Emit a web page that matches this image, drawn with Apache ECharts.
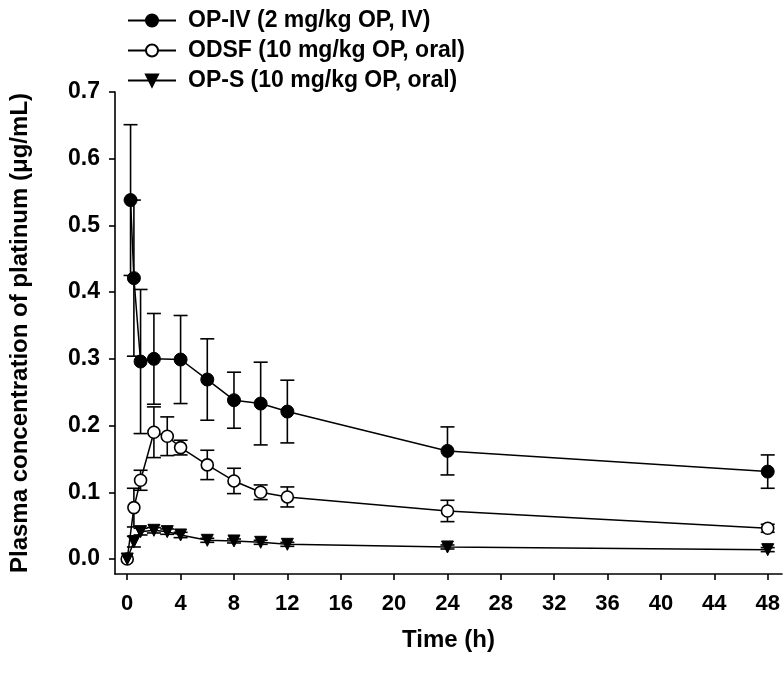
<!DOCTYPE html>
<html>
<head>
<meta charset="utf-8">
<script src="https://cdn.jsdelivr.net/npm/echarts@6/dist/echarts.min.js"></script>
<style>
html,body{margin:0;padding:0;background:#fff;}
#chart{width:784px;height:675px;}
</style>
</head>
<body>
<div id="chart"></div>
<script>
// ---- data ----
var seriesNames = ['OP-IV (2 mg/kg OP, IV)', 'ODSF (10 mg/kg OP, oral)', 'OP-S (10 mg/kg OP, oral)'];

var ivTime = [0.25, 0.5, 1, 2, 4, 6, 8, 10, 12, 24, 48];
var ivMean = [0.538, 0.421, 0.296, 0.300, 0.299, 0.269, 0.238, 0.233, 0.221, 0.162, 0.131];
var ivSD   = [0.113, 0.117, 0.108, 0.068, 0.066, 0.061, 0.042, 0.062, 0.047, 0.036, 0.025];

var odsfTime = [0, 0.5, 1, 2, 3, 4, 6, 8, 10, 12, 24, 48];
var odsfMean = [0, 0.077, 0.118, 0.190, 0.184, 0.167, 0.141, 0.117, 0.100, 0.093, 0.072, 0.046];
var odsfSD   = [0, 0.029, 0.015, 0.038, 0.029, 0.011, 0.022, 0.019, 0.011, 0.015, 0.016, 0.006];

var opsTime = [0, 0.5, 1, 2, 3, 4, 6, 8, 10, 12, 24, 48];
var opsMean = [0, 0.026, 0.041, 0.043, 0.041, 0.036, 0.028, 0.027, 0.025, 0.022, 0.018, 0.014];
var opsSD   = [0, 0.008, 0.005, 0.004, 0.004, 0.004, 0.003, 0.003, 0.003, 0.003, 0.003, 0.003];

var xTicks = [0, 4, 8, 12, 16, 20, 24, 28, 32, 36, 40, 44, 48];
var yTicks = [0, 0.1, 0.2, 0.3, 0.4, 0.5, 0.6, 0.7];

// ---- build ----
var FONT = '"Liberation Sans", Arial, sans-serif';
function pts(t, m) { return t.map(function (v, i) { return [v, m[i]]; }); }
function errs(t, m, s) { return t.map(function (v, i) { return [v, m[i] - s[i], m[i] + s[i]]; }); }

function errRender(params, api) {
  var x = api.value(0), lo = api.value(1), hi = api.value(2);
  if (hi - lo <= 0) return null;
  var pLo = api.coord([x, lo]), pHi = api.coord([x, hi]);
  var hw = 7;
  var st = { stroke: '#000', lineWidth: 1.6 };
  return {
    type: 'group',
    children: [
      { type: 'line', shape: { x1: pLo[0], y1: pLo[1], x2: pHi[0], y2: pHi[1] }, style: st },
      { type: 'line', shape: { x1: pHi[0] - hw, y1: pHi[1], x2: pHi[0] + hw, y2: pHi[1] }, style: st },
      { type: 'line', shape: { x1: pLo[0] - hw, y1: pLo[1], x2: pLo[0] + hw, y2: pLo[1] }, style: st }
    ]
  };
}

function errSeries(data) {
  return { type: 'custom', renderItem: errRender, data: data, encode: { x: 0, y: [1, 2] }, z: 1, silent: true };
}

var chart = echarts.init(document.getElementById('chart'), null, { renderer: 'canvas' });
chart.setOption({
  backgroundColor: '#fff',
  animation: false,
  grid: { left: 111, right: 2, top: 92, bottom: 101, containLabel: false },
  legend: {
    left: 122, top: 4, orient: 'vertical', itemGap: 7,
    itemWidth: 48, itemHeight: 15,
    textStyle: { fontFamily: FONT, fontWeight: 'bold', fontSize: 23, color: '#000', padding: [0, 0, 0, 7] },
    data: seriesNames
  },
  xAxis: {
    type: 'value', min: -0.916, max: 49.07,
    name: 'Time (h)', nameLocation: 'middle', nameGap: 54,
    nameTextStyle: { fontFamily: FONT, fontWeight: 'bold', fontSize: 24, color: '#000' },
    axisLine: { onZero: false, lineStyle: { color: '#000', width: 1.6 } },
    axisTick: { customValues: xTicks, length: 6, lineStyle: { color: '#000', width: 1.6 } },
    axisLabel: { customValues: xTicks, margin: 19, fontFamily: FONT, fontWeight: 'bold', fontSize: 22, color: '#000' },
    splitLine: { show: false }
  },
  yAxis: {
    type: 'value', min: -0.0225, max: 0.7,
    name: 'Plasma concentration of platinum (\u03bcg/mL)', nameLocation: 'middle', nameGap: 83,
    nameTextStyle: { fontFamily: FONT, fontWeight: 'bold', fontSize: 24, color: '#000' },
    axisLine: { show: true, onZero: false, lineStyle: { color: '#000', width: 1.6 } },
    axisTick: { show: true, customValues: yTicks, length: 6, lineStyle: { color: '#000', width: 1.6 } },
    axisLabel: { customValues: yTicks, margin: 15, fontFamily: FONT, fontWeight: 'bold', fontSize: 23, color: '#000',
      formatter: function (v) { return v.toFixed(1); } },
    splitLine: { show: false }
  },
  series: [
    errSeries(errs(ivTime, ivMean, ivSD)),
    errSeries(errs(odsfTime, odsfMean, odsfSD)),
    errSeries(errs(opsTime, opsMean, opsSD)),
    {
      name: seriesNames[0], type: 'line', data: pts(ivTime, ivMean), z: 5,
      symbol: 'circle', symbolSize: 13,
      lineStyle: { color: '#000', width: 1.5 },
      itemStyle: { color: '#000', borderColor: '#000', borderWidth: 1 }
    },
    {
      name: seriesNames[1], type: 'line', data: pts(odsfTime, odsfMean), z: 5,
      symbol: 'circle', symbolSize: 12,
      lineStyle: { color: '#000', width: 1.5 },
      itemStyle: { color: '#fff', borderColor: '#000', borderWidth: 1.6 }
    },
    {
      name: seriesNames[2], type: 'line', data: pts(opsTime, opsMean), z: 5,
      symbol: 'triangle', symbolRotate: 180, symbolSize: 12,
      lineStyle: { color: '#000', width: 1.5 },
      itemStyle: { color: '#000', borderColor: '#000', borderWidth: 1 }
    }
  ]
});
</script>
</body>
</html>
